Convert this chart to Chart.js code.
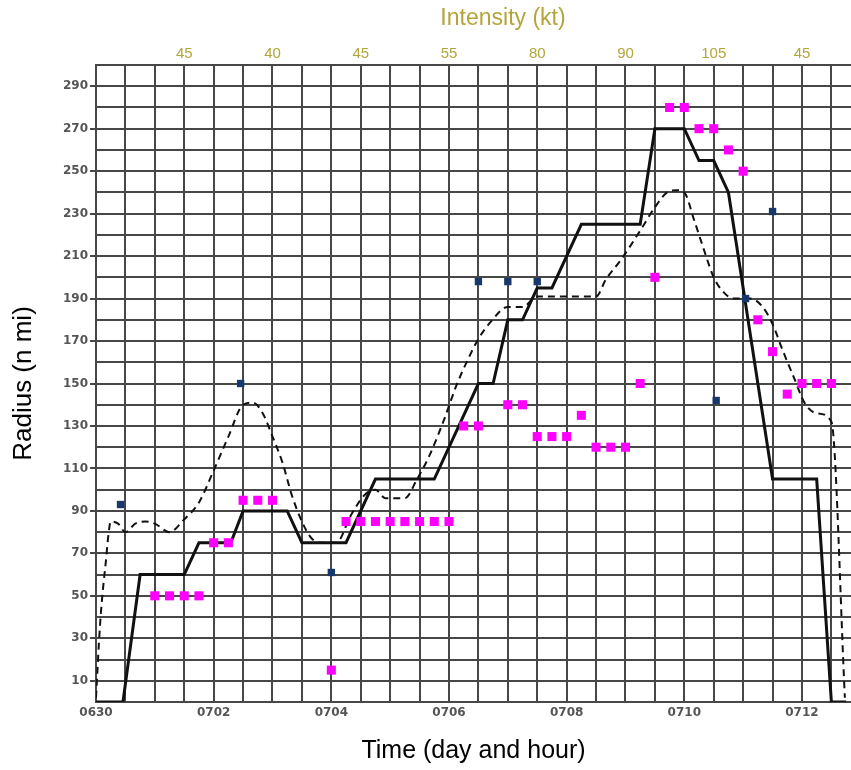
<!DOCTYPE html>
<html>
<head>
<meta charset="utf-8">
<script src="https://cdn.jsdelivr.net/npm/chart.js@4.4.1/dist/chart.umd.min.js"></script>
<style>
  body { margin: 0; background: #fff; }
</style>
</head>
<body>
<canvas id="radiusChart" width="851" height="770"></canvas>
<script>
// hours counted from the 0630 mark at the left edge, grid every 12 h
var timeTickHours = [0, 48, 96, 144, 192, 240, 288];
var timeTickLabels = ['0630', '0702', '0704', '0706', '0708', '0710', '0712'];
var intensityHours = [36, 72, 108, 144, 180, 216, 252, 288];
var intensityLabels = ['45', '40', '45', '55', '80', '90', '105', '45'];
var radiusTickLabels = [10, 30, 50, 70, 90, 110, 130, 150, 170, 190, 210, 230, 250, 270, 290];

// solid line
var solidHours = [0, 11, 18, 36, 42, 55, 60, 78, 84, 102, 114, 138, 156, 162, 168, 174, 180, 186, 198, 222, 228, 240, 246, 252, 258, 276, 294, 300, 306];
var solidRadius = [0, 0, 60, 60, 75, 75, 90, 90, 75, 75, 105, 105, 150, 150, 180, 180, 195, 195, 225, 225, 270, 270, 255, 255, 240, 105, 105, 0, 0];

// dashed line
var dashedHours = [0, 0.6, 1.2, 2, 3, 4, 5, 6, 9, 12, 16, 20, 24, 30, 36, 42, 48, 54, 60, 64, 68, 72, 76, 80, 84, 88, 92, 98, 104, 110,
  114, 118, 126, 131, 136, 142, 147, 152, 156, 161, 168, 174, 180, 192, 204, 208, 214, 222, 228, 233, 237, 240, 244, 248, 252, 256, 260, 267, 272, 276,
  280, 285, 289, 294, 300, 305.5];
var dashedRadius = [2, 15, 28, 42, 55, 66, 78, 85, 84, 80, 84, 85, 84, 80, 86, 94, 109, 125, 140, 141, 136, 125, 113, 97, 85, 77, 75, 75, 88, 98,
  100, 96, 96, 105, 116, 133, 149, 162, 171, 179, 186, 186, 191, 191, 191, 199, 208, 222, 233, 240, 241, 240, 227, 213, 200, 193, 190, 190, 186, 178,
  166, 152, 141, 136, 132, 2];

// magenta squares
var pinkHours = [24, 30, 36, 42, 48, 54, 60, 66, 72, 96, 102, 108, 114, 120, 126, 132, 138, 144, 150, 156, 168, 174, 180, 186, 192, 198,
  204, 210, 216, 222, 228, 234, 240, 246, 252, 258, 264, 270, 276, 282, 288, 294, 300];
var pinkRadius = [50, 50, 50, 50, 75, 75, 95, 95, 95, 15, 85, 85, 85, 85, 85, 85, 85, 85, 130, 130, 140, 140, 125, 125, 125, 135,
  120, 120, 120, 150, 200, 280, 280, 270, 270, 260, 250, 180, 165, 145, 150, 150, 150];

// navy squares
var navyHours = [10, 59, 96, 156, 168, 180, 253, 265, 276];
var navyRadius = [93, 150, 61, 198, 198, 198, 142, 190, 231];

var gridColor = '#474747';
var olive = '#b3a53c';
var tickFont = { family: 'DejaVu Sans', size: 12, weight: 'bold' };

function pts(xs, ys) {
    return xs.map(function (h, i) { return { x: h, y: ys[i] }; });
}

// top title sits a bit right of the plot centre
var intensityTitle = {
    id: 'intensityTitle',
    afterDraw: function (chart) {
        var ctx = chart.ctx;
        ctx.save();
        ctx.font = '23px "Liberation Sans", Arial, sans-serif';
        ctx.fillStyle = olive;
        ctx.textAlign = 'center';
        ctx.textBaseline = 'middle';
        ctx.fillText('Intensity (kt)', 503, 19);
        ctx.restore();
    }
};

new Chart(document.getElementById('radiusChart'), {
    type: 'line',
    data: {
        datasets: [{
            type: 'scatter',
            data: pts(navyHours, navyRadius),
            pointStyle: 'rect',
            pointRadius: 5.2,
            backgroundColor: '#16386a',
            borderWidth: 0
        }, {
            type: 'scatter',
            data: pts(pinkHours, pinkRadius),
            pointStyle: 'rect',
            pointRadius: 6.4,
            backgroundColor: '#ff00ff',
            borderWidth: 0
        }, {
            data: pts(solidHours, solidRadius),
            borderColor: '#111',
            borderWidth: 3,
            pointRadius: 0,
            tension: 0,
            fill: false
        }, {
            data: pts(dashedHours, dashedRadius),
            borderColor: '#111',
            borderWidth: 2,
            borderDash: [7, 5],
            pointRadius: 0,
            cubicInterpolationMode: 'monotone',
            fill: false
        }]
    },
    options: {
        responsive: false,
        animation: false,
        devicePixelRatio: 1,
        layout: { padding: 0, autoPadding: false },
        plugins: { legend: { display: false }, tooltip: { enabled: false } },
        scales: {
            x: {
                type: 'linear',
                position: 'bottom',
                min: 0,
                max: 308,
                afterBuildTicks: function (s) {
                    var t = [];
                    for (var h = 0; h <= 300; h += 12) t.push({ value: h });
                    s.ticks = t;
                },
                afterFit: function (s) { s.height = 68; s.paddingRight = 0; },
                ticks: {
                    autoSkip: false,
                    maxRotation: 0,
                    padding: 4,
                    color: '#555',
                    font: tickFont,
                    callback: function (v) {
                        var i = timeTickHours.indexOf(v);
                        return i < 0 ? '' : timeTickLabels[i];
                    }
                },
                grid: { color: gridColor, lineWidth: 2, drawTicks: false },
                border: { color: gridColor, width: 2 },
                title: {
                    display: true,
                    text: 'Time (day and hour)',
                    color: '#000',
                    font: { family: 'Liberation Sans', size: 25 },
                    padding: { top: 0, bottom: 4 }
                }
            },
            x2: {
                type: 'linear',
                position: 'top',
                min: 0,
                max: 308,
                afterBuildTicks: function (s) {
                    s.ticks = intensityHours.map(function (h) { return { value: h }; });
                },
                afterFit: function (s) { s.height = 65; s.paddingRight = 0; },
                ticks: {
                    autoSkip: false,
                    maxRotation: 0,
                    padding: 2,
                    color: olive,
                    font: { family: 'Liberation Sans', size: 15 },
                    callback: function (v) { return intensityLabels[intensityHours.indexOf(v)]; }
                },
                grid: { display: false, drawTicks: false },
                border: { display: true, color: gridColor, width: 2 }
            },
            y: {
                type: 'linear',
                min: 0,
                max: 300,
                afterBuildTicks: function (s) {
                    var t = [];
                    for (var r = 0; r <= 300; r += 10) t.push({ value: r });
                    s.ticks = t;
                },
                afterFit: function (s) { s.width = 96; },
                ticks: {
                    autoSkip: false,
                    padding: 2,
                    color: '#555',
                    font: tickFont,
                    callback: function (v) { return radiusTickLabels.indexOf(v) >= 0 ? String(v) : ''; }
                },
                grid: {
                    color: gridColor,
                    lineWidth: 2,
                    tickLength: 6,
                    tickColor: function (ctx) {
                        return ctx.tick && radiusTickLabels.indexOf(ctx.tick.value) >= 0 ? gridColor : 'rgba(0,0,0,0)';
                    }
                },
                border: { color: gridColor, width: 2 },
                title: {
                    display: true,
                    text: 'Radius (n mi)',
                    color: '#000',
                    font: { family: 'Liberation Sans', size: 26 },
                    padding: { top: 8, bottom: 0 }
                }
            }
        }
    },
    plugins: [intensityTitle]
});
</script>
</body>
</html>
